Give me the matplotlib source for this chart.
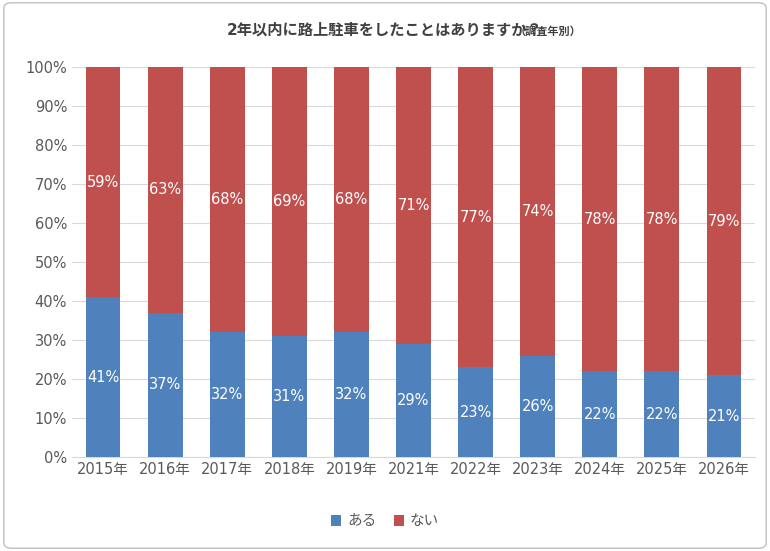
import matplotlib.pyplot as plt
import numpy as np
from matplotlib.patches import FancyBboxPatch

plt.rcParams['font.family'] = ['DejaVu Sans', 'Noto Sans CJK JP']

years = ['2015年', '2016年', '2017年', '2018年', '2019年', '2021年',
         '2022年', '2023年', '2024年', '2025年', '2026年']
aru = [41, 37, 32, 31, 32, 29, 23, 26, 22, 22, 21]
nai = [59, 63, 68, 69, 68, 71, 77, 74, 78, 78, 79]

fig = plt.figure(figsize=(7.7, 5.51), dpi=100)
ax = fig.add_axes([72 / 770, 94 / 551, 683 / 770, 390 / 551])

x = np.arange(len(years))
w = 0.56
ax.bar(x, aru, w, color='#4F81BD', label='ある', zorder=3)
ax.bar(x, nai, w, bottom=aru, color='#C0504D', label='ない', zorder=3)

for i in range(len(years)):
    ax.text(x[i], aru[i] / 2, f'{aru[i]}%', ha='center', va='center',
            color='white', fontsize=10.5, zorder=4)
    ax.text(x[i], aru[i] + nai[i] / 2, f'{nai[i]}%', ha='center', va='center',
            color='white', fontsize=10.5, zorder=4)

ax.set_ylim(0, 100)
ax.set_xlim(-0.5, len(years) - 0.5)
ax.set_yticks(range(0, 101, 10))
ax.set_yticklabels([f'{v}%' for v in range(0, 101, 10)])
ax.set_xticks(x)
ax.set_xticklabels(years)
ax.tick_params(length=0, labelsize=10.5, colors='#595959')
ax.grid(axis='y', color='#D9D9D9', linewidth=0.8, zorder=0)
for s in ['top', 'right', 'left']:
    ax.spines[s].set_visible(False)
ax.spines['bottom'].set_color('#D9D9D9')

fig.text(0.5, 1 - 30 / 551, '2年以内に路上駐車をしたことはありますか？', ha='center',
         va='center', fontsize=11, fontweight='bold', color='#404040')
fig.text(548 / 770, 1 - 31 / 551, '（調査年別）', ha='center', va='center',
         fontsize=8, fontweight='bold', color='#404040')

fig.legend(loc='center', bbox_to_anchor=(0.5, 1 - 521 / 551), ncol=2, frameon=False,
           fontsize=10.5, handlelength=0.7, handleheight=0.7, handletextpad=0.4,
           columnspacing=1.2, labelcolor='#595959')

fig.patches.append(FancyBboxPatch((0.005, 0.005), 0.99, 0.99,
                                  boxstyle='round,pad=0,rounding_size=0.01',
                                  transform=fig.transFigure, fill=False,
                                  edgecolor='#BFBFBF', linewidth=1))

fig.savefig('out.png', dpi=100)
